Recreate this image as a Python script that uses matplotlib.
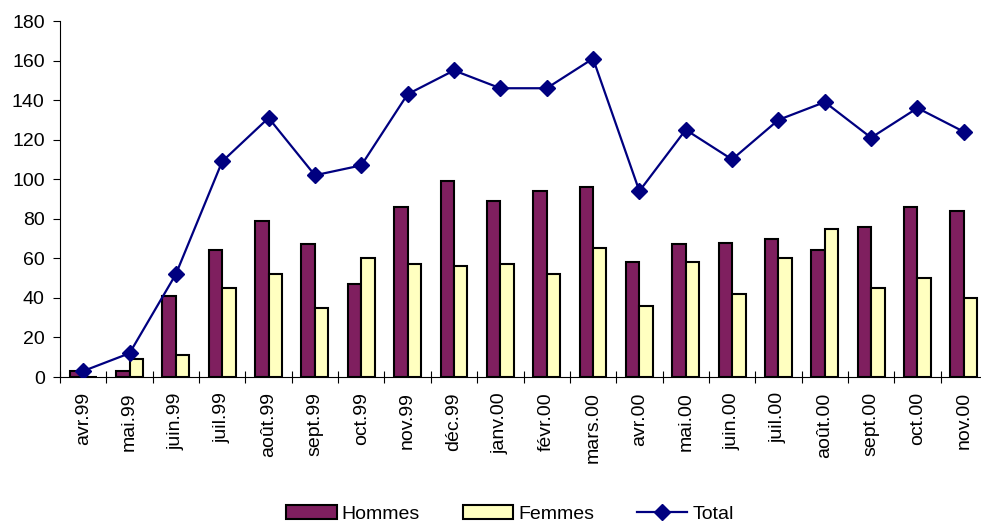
import matplotlib.pyplot as plt
import numpy as np

plt.rcParams['font.family'] = ['Liberation Sans', 'DejaVu Sans']
plt.rcParams['font.size'] = 14

mois = ['avr.99', 'mai.99', 'juin.99', 'juil.99', 'août.99', 'sept.99', 'oct.99',
        'nov.99', 'déc.99', 'janv.00', 'févr.00', 'mars.00', 'avr.00', 'mai.00',
        'juin.00', 'juil.00', 'août.00', 'sept.00', 'oct.00', 'nov.00']
hommes = [3, 3, 41, 64, 79, 67, 47, 86, 99, 89, 94, 96, 58, 67, 68, 70, 64, 76, 86, 84]
femmes = [0, 9, 11, 45, 52, 35, 60, 57, 56, 57, 52, 65, 36, 58, 42, 60, 75, 45, 50, 40]
total = [3, 12, 52, 109, 131, 102, 107, 143, 155, 146, 146, 161, 94, 125, 110, 130, 139, 121, 136, 124]

fig = plt.figure(figsize=(9.81, 5.22), dpi=100)
ax = fig.add_axes([60 / 981, 145 / 522, 927 / 981, 356 / 522])

x = np.arange(len(mois))
w = 0.29
b1 = ax.bar(x - w / 2, hommes, w, color='#7f1f5f', edgecolor='black', linewidth=1.5,
            label='Hommes', zorder=2)
b2 = ax.bar(x + w / 2, femmes, w, color='#ffffc0', edgecolor='black', linewidth=1.5,
            label='Femmes', zorder=2)
l1, = ax.plot(x, total, color='#000080', linewidth=1.6, marker='D', markersize=8,
              label='Total', zorder=3)

ax.set_xlim(-0.5, len(mois) - 0.5)
ax.set_ylim(0, 180)
ax.set_yticks(range(0, 181, 20))
ax.set_xticks(x)
ax.set_xticklabels(mois, rotation=90)
ax.set_xticks(np.arange(-0.5, len(mois), 1), minor=True)
ax.tick_params(axis='x', which='major', length=0, pad=11, labelsize=14)
ax.tick_params(axis='x', which='minor', direction='inout', length=9, width=0.8)
ax.tick_params(axis='y', direction='out', length=5, width=0.8, labelsize=14, pad=6)

for s in ['top', 'right']:
    ax.spines[s].set_visible(False)
for s in ['left', 'bottom']:
    ax.spines[s].set_linewidth(0.8)

fig.legend([b1, b2, l1], ['Hommes', 'Femmes', 'Total'],
           loc='center', bbox_to_anchor=(510 / 981, 8 / 522), ncol=3, frameon=False,
           handlelength=2.6, handleheight=0.72, columnspacing=2.2, handletextpad=0.25,
           fontsize=14, borderpad=0)

fig.savefig('out.png', dpi=100)
